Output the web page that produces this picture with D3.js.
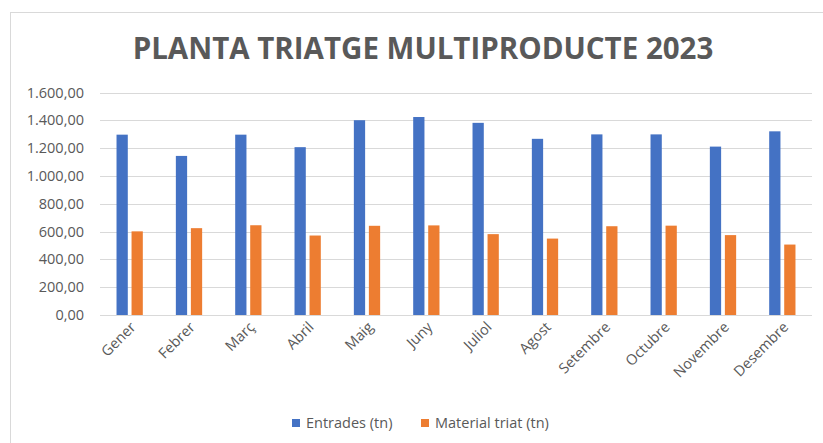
<!DOCTYPE html>
<html lang="ca">
<head>
  <meta charset="UTF-8">
  <title>Planta triatge multiproducte 2023</title>
  <script src="https://cdnjs.cloudflare.com/ajax/libs/d3/7.8.5/d3.min.js"></script>
  <style>
    body { margin: 0; background: white; }
    svg { display: block; font-family: "Open Sans", sans-serif; }
  </style>
</head>
<body>
  <script>
    var months = ["Gener", "Febrer", "Març", "Abril", "Maig", "Juny", "Juliol",
      "Agost", "Setembre", "Octubre", "Novembre", "Desembre"];
    var entrades = [1298, 1145, 1298, 1208, 1402, 1425, 1383, 1268, 1300, 1300, 1212, 1322];
    var triat = [602, 625, 646, 572, 642, 645, 582, 550, 639, 643, 575, 507];
    var seriesNames = ["Entrades (tn)", "Material triat (tn)"];
    var yTicks = [0, 200, 400, 600, 800, 1000, 1200, 1400, 1600];

    var w = 823, h = 443;
    var colors = ["#4472c4", "#ed7d31"];
    var grey = "#595959";

    var svg = d3.select("body").append("svg")
      .attr("width", w)
      .attr("height", h);

    // chart border
    svg.append("rect")
      .attr("x", 10.5).attr("y", 12.5)
      .attr("width", w).attr("height", h)
      .attr("fill", "none")
      .attr("stroke", "#d9d9d9");

    svg.append("text")
      .attr("x", 423).attr("y", 59)
      .attr("text-anchor", "middle")
      .attr("font-size", 29.5)
      .attr("font-weight", "bold")
      .attr("fill", grey)
      .text("PLANTA TRIATGE MULTIPRODUCTE 2023");

    var x = d3.scaleBand().domain(months).range([100, 812]);
    var y = d3.scaleLinear().domain([0, 1600]).range([315, 92.7]);

    var xs = d3.scaleBand().domain([0, 1]).range([0, x.bandwidth()])
      .paddingInner(0.25).paddingOuter(1.1);

    svg.selectAll(".grid")
      .data(yTicks)
      .enter().append("line")
      .attr("x1", 100).attr("x2", 812)
      .attr("y1", function(d) { return Math.round(y(d)) + 0.5; })
      .attr("y2", function(d) { return Math.round(y(d)) + 0.5; })
      .attr("stroke", "#d9d9d9")
      .attr("stroke-width", 1);

    var fmt = d3.formatLocale({ decimal: ",", thousands: ".", grouping: [3], currency: ["", ""] }).format(",.2f");

    svg.selectAll(".ylab")
      .data(yTicks)
      .enter().append("text")
      .attr("x", 84)
      .attr("y", function(d) { return y(d) + 5; })
      .attr("text-anchor", "end")
      .attr("font-size", 14.5)
      .attr("fill", grey)
      .text(function(d) { return fmt(d); });

    var series = [entrades, triat];
    series.forEach(function(vals, s) {
      svg.selectAll(".bar" + s)
        .data(vals)
        .enter().append("rect")
        .attr("x", function(d, i) { return x(months[i]) + xs(s); })
        .attr("width", xs.bandwidth())
        .attr("y", function(d) { return y(d); })
        .attr("height", function(d) { return y(0) - y(d); })
        .attr("fill", colors[s]);
    });

    svg.selectAll(".xlab")
      .data(months)
      .enter().append("text")
      .attr("transform", function(d) {
        return "translate(" + (x(d) + x.bandwidth() / 2 + 7) + "," + 328 + ") rotate(-45)";
      })
      .attr("text-anchor", "end")
      .attr("font-size", 14.5)
      .attr("fill", grey)
      .text(function(d) { return d; });

    var legendX = [292, 421];
    seriesNames.forEach(function(name, s) {
      svg.append("rect")
        .attr("x", legendX[s]).attr("y", 419)
        .attr("width", 8).attr("height", 8)
        .attr("fill", colors[s]);
      svg.append("text")
        .attr("x", legendX[s] + 14).attr("y", 428)
        .attr("font-size", 14.5)
        .attr("fill", grey)
        .text(name);
    });
  </script>
</body>
</html>
